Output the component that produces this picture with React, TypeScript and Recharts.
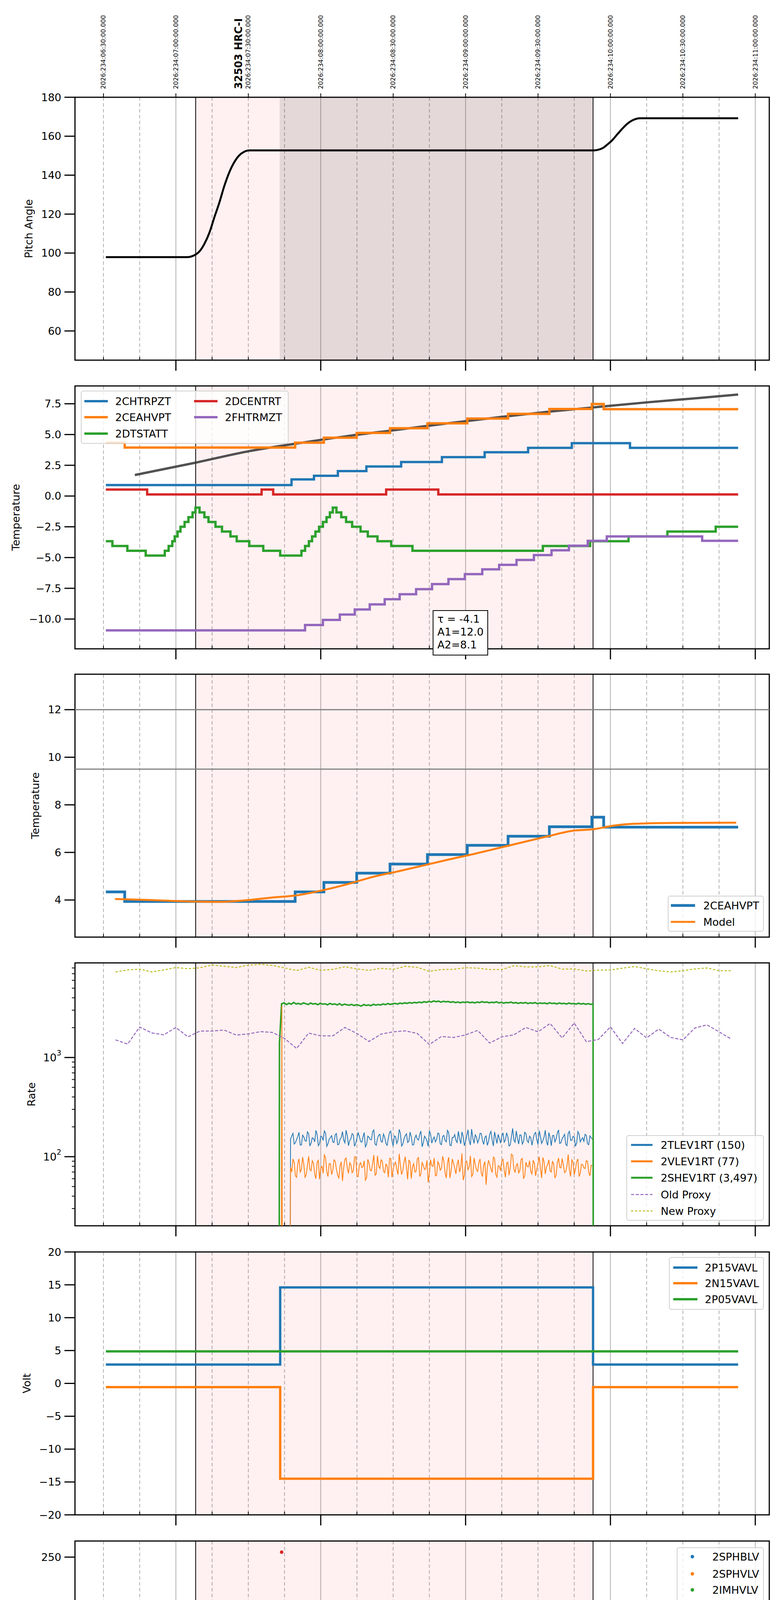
// HRC-I observation 32503 — eight stacked telemetry panels sharing one time axis.
// Time is minutes after local midnight on 2026-08-22 (top labels are UTC, +4h).

import React from 'react';
import {
  ComposedChart,
  Line,
  Scatter,
  XAxis,
  YAxis,
  CartesianGrid,
  ReferenceLine,
  ReferenceArea,
} from 'recharts';

const FONT = 'DejaVu Sans, sans-serif';
const BLUE = '#1f77b4';
const ORANGE = '#ff7f0e';
const GREEN = '#2ca02c';
const RED = '#d62728';
const PURPLE = '#9467bd';
const OLIVE = '#bcbd22';

// ---- shared time axis ----
const X_DOMAIN: [number, number] = [138.2, 425.8];
const QUARTER_TICKS = [150, 165, 180, 195, 210, 225, 240, 255, 270, 285, 300, 315, 330, 345, 360, 375, 390, 405, 420];
const QUARTER_LABELS = ['30', '45', '03h', '15', '30', '45', '04h', '15', '30', '45', '05h', '15', '30', '45', '06h', '15', '30', '45', '07h'];
const HOUR_TICKS = [180, 240, 300, 360, 420];
const DASHED_GRID = [150, 165, 195, 210, 225, 255, 270, 285, 315, 330, 345, 375, 390, 405];
const HALF_TICKS = [150, 180, 210, 240, 270, 300, 330, 360, 390, 420];
const HALF_LABELS = [
  '2026:234:06:30:00.000', '2026:234:07:00:00.000', '2026:234:07:30:00.000', '2026:234:08:00:00.000',
  '2026:234:08:30:00.000', '2026:234:09:00:00.000', '2026:234:09:30:00.000', '2026:234:10:00:00.000',
  '2026:234:10:30:00.000', '2026:234:11:00:00.000',
];
const OBS_START = 188.2;
const OBS_END = 352.8;
const HRC_ON = 223.0;
const HRC_LABEL_T = 206.0;

// ---- panel 1: pitch ----
const PITCH_T = [151.0, 184.6, 187.7, 189.8, 191.8, 193.9, 195.9, 198.0, 200.1, 202.1, 204.2, 206.2, 208.3, 210.4, 352.7, 354.8, 356.8, 358.9, 361.0, 363.0, 365.1, 367.1, 369.2, 372.3, 412.9];
const PITCH_V = [97.9, 97.9, 98.9, 100.9, 104.7, 110.5, 118.2, 125.9, 134.6, 141.4, 146.7, 150.1, 152.0, 152.7, 152.7, 153.0, 153.9, 155.9, 158.3, 161.2, 164.1, 166.5, 168.2, 169.2, 169.2];

// ---- panel 2: temperatures ----
const CHTRPZT_T = [151.0, 227.9, 237.2, 247.1, 258.9, 273.3, 290.2, 307.9, 325.9, 344.0, 368.1, 412.9];
const CHTRPZT_V = [0.89, 1.35, 1.65, 2.03, 2.40, 2.77, 3.16, 3.56, 3.92, 4.30, 3.92, 3.92];
const CEAHVPT_T = [151.0, 158.8, 229.4, 241.3, 254.9, 268.7, 284.2, 300.7, 317.6, 334.7, 352.3, 357.2, 412.9];
const CEAHVPT_V = [4.34, 3.94, 4.34, 4.74, 5.13, 5.51, 5.91, 6.30, 6.68, 7.08, 7.48, 7.06, 7.06];
const DCENTRT_T = [151.0, 168.1, 215.5, 220.3, 267.1, 288.7, 412.9];
const DCENTRT_V = [0.53, 0.13, 0.53, 0.13, 0.53, 0.13, 0.13];
const DTSTATT_T = [
  151.0, 153.7, 159.9, 167.5, 175.4, 177.0, 178.5, 179.5, 180.7, 181.9, 183.6, 185.2, 186.9, 188.1,
  189.8, 191.8, 193.5, 196.4, 199.1, 202.6, 205.2, 210.4, 216.2, 223.2,
  232.0, 233.5, 235.1, 236.4, 237.8, 239.3, 240.9, 242.4, 243.8, 245.0,
  246.5, 248.5, 250.5, 253.0, 256.5, 259.5, 263.5, 269.2, 278.0,
  332.0, 351.6, 367.5, 383.6, 403.6, 412.9,
];
const DTSTATT_V = [
  -3.67, -4.06, -4.45, -4.84, -4.45, -4.06, -3.67, -3.28, -2.89, -2.5, -2.11, -1.72, -1.33, -0.94,
  -1.33, -1.72, -2.11, -2.5, -2.89, -3.28, -3.67, -4.06, -4.45, -4.84,
  -4.45, -4.06, -3.67, -3.28, -2.89, -2.5, -2.11, -1.72, -1.33, -0.94,
  -1.33, -1.72, -2.11, -2.5, -2.89, -3.28, -3.67, -4.06, -4.45,
  -4.06, -3.67, -3.28, -2.89, -2.5, -2.5,
];
const FHTRMZT_T = [151.0, 233.5, 240.9, 247.9, 254.1, 260.3, 266.5, 272.7, 279.5, 286.1, 292.9, 299.7, 306.9, 313.9, 321.1, 328.3, 335.6, 342.8, 350.6, 358.5, 398.0, 412.9];
const FHTRMZT_V = [-10.92, -10.48, -10.07, -9.63, -9.22, -8.81, -8.39, -7.98, -7.57, -7.16, -6.75, -6.35, -5.96, -5.59, -5.2, -4.8, -4.41, -4.04, -3.64, -3.28, -3.64, -3.64];
const FIT_T = [163.0, 188.3, 210.4, 231.0, 251.6, 272.3, 292.9, 313.5, 334.1, 352.7, 375.4, 396.0, 412.9];
const FIT_V = [1.71, 2.72, 3.65, 4.3, 4.89, 5.4, 5.92, 6.4, 6.85, 7.2, 7.62, 7.96, 8.25];

// ---- panel 3: 2CEAHVPT vs model ----
const MODEL_T = [154.8, 169.2, 179.5, 198.0, 210.4, 218.6, 231.0, 241.3, 251.6, 261.9, 272.3, 282.6, 292.9, 303.2, 313.5, 323.8, 334.1, 344.4, 352.7, 360.9, 369.2, 385.7, 412.1];
const MODEL_V = [4.04, 4.0, 3.96, 3.92, 4.0, 4.09, 4.21, 4.42, 4.68, 4.98, 5.21, 5.45, 5.7, 5.93, 6.18, 6.43, 6.68, 6.91, 6.97, 7.12, 7.2, 7.24, 7.25];
const LIMIT_LINES = [12, 9.5];

// ---- panel 4: rates (two interleaved 1-min sample sets) ----
const RATE_STEP = 1.0;
const TLEV_START = 227.5;
const TLEV_START_B = 228.0;
const TLEV1RT = [
  150, 172, 138, 160, 131, 165, 145, 178, 128, 155, 141, 168, 135, 159, 182, 127, 150, 163, 139, 171,
  133, 156, 147, 185, 129, 152, 166, 137, 174, 142, 158, 126, 161, 149, 179, 134, 153, 168, 140, 157,
  130, 176, 145, 162, 136, 188, 128, 151, 170, 143, 159, 132, 165, 147, 181, 138, 154, 127, 169, 150,
  141, 173, 135, 160, 146, 184, 131, 156, 167, 139, 152, 178, 129, 163, 144, 190, 136, 158, 149, 171,
  133, 162, 142, 180, 128, 155, 168, 137, 174, 147, 159, 131, 193, 140, 153, 166, 134, 176, 145, 161,
  130, 170, 148, 183, 136, 157, 142, 175, 129, 164, 151, 186, 138, 159, 133, 172, 146, 160, 127, 179,
  141, 155, 168, 135, 162, 150,
];
const TLEV1RT_B = [
  162, 134, 149, 176, 131, 158, 143, 170, 137, 152, 184, 129, 161, 146, 173, 135, 156, 141, 167, 132,
  150, 179, 138, 163, 145, 171, 127, 154, 160, 140, 175, 133, 157, 148, 186, 130, 165, 142, 169, 136,
  153, 181, 128, 159, 147, 172, 134, 163, 139, 177, 131, 155, 150, 168, 126, 161, 144, 183, 137, 158,
  149, 170, 132, 164, 141, 175, 129, 156, 146, 180, 135, 160, 143, 187, 131, 154, 166, 138, 172, 145,
  157, 130, 169, 148, 178, 136, 152, 162, 140, 174, 128, 159, 147, 182, 134, 165, 142, 171, 139, 155,
  151, 176, 133, 160, 145, 185, 130, 157, 163, 141, 173, 136, 152, 168, 129, 180, 146, 158, 137, 170,
  149, 143, 164, 132, 156,
];
const VLEV1RT = [
  78, 95, 64, 86, 70, 99, 62, 82, 74, 91, 67, 88, 59, 80, 104, 71, 85, 66, 93, 75,
  61, 89, 77, 97, 68, 83, 72, 100, 63, 87, 79, 58, 94, 73, 86, 65, 102, 76, 90, 69,
  81, 96, 62, 84, 74, 107, 66, 88, 78, 92, 60, 85, 71, 98, 67, 82, 76, 55, 93, 80,
  64, 89, 73, 101, 69, 86, 61, 95, 77, 84, 70, 108, 65, 90, 79, 63, 97, 74, 87, 68,
  83, 52, 92, 76, 99, 66, 81, 72, 94, 62, 88, 78, 103, 69, 85, 73, 96, 64, 80, 91,
  67, 86, 75, 100, 61, 89, 79, 93, 70, 84, 65, 97, 77, 82, 71, 105, 63, 88, 74, 95,
  68, 83, 76, 90, 64, 81,
];
const VLEV1RT_B = [
  70, 88, 62, 95, 74, 83, 66, 101, 72, 86, 60, 92, 77, 68, 98, 63, 85, 73, 90, 65,
  81, 57, 94, 76, 87, 69, 99, 64, 83, 78, 91, 61, 86, 72, 104, 67, 80, 93, 71, 84,
  62, 96, 75, 88, 66, 82, 73, 100, 59, 89, 79, 70, 95, 63, 87, 74, 92, 68, 81, 97,
  65, 84, 76, 90, 61, 99, 72, 86, 67, 93, 78, 58, 88, 74, 102, 66, 83, 71, 95, 63,
  89, 77, 84, 69, 97, 62, 80, 91, 73, 86, 65, 106, 75, 82, 68, 94, 60, 88, 79, 71,
  92, 64, 85, 76, 98, 67, 83, 72, 90, 61, 87, 78, 96, 69, 81, 74, 93, 66, 89, 63,
  84, 77, 91, 70, 82,
];
const SHEV_START = 223.8;
const SHEV1RT = [
  3480, 3560, 3420, 3530, 3450, 3590, 3470, 3510, 3440, 3550,
  3490, 3420, 3540, 3460, 3500, 3410, 3520, 3450, 3480, 3400,
  3510, 3430, 3470, 3390, 3490, 3360, 3450, 3400, 3370, 3430,
  3340, 3410, 3360, 3300, 3420, 3350, 3390, 3330, 3440, 3370,
  3420, 3380, 3470, 3410, 3500, 3430, 3480, 3520, 3450, 3540,
  3490, 3560, 3510, 3580, 3530, 3600, 3550, 3620, 3570, 3650,
  3600, 3680, 3620, 3720, 3650, 3700, 3610, 3690, 3640, 3670,
  3600, 3650, 3580, 3630, 3560, 3620, 3590, 3640, 3570, 3610,
  3550, 3620, 3580, 3660, 3590, 3630, 3560, 3610, 3580, 3640,
  3550, 3600, 3530, 3590, 3560, 3620, 3540, 3580, 3510, 3570,
  3530, 3590, 3500, 3560, 3520, 3580, 3490, 3550, 3510, 3540,
  3480, 3560, 3500, 3530, 3470, 3550, 3490, 3520, 3460, 3540,
  3480, 3510, 3450, 3530, 3460, 3500, 3440, 3490, 3430, 3470,
];
// off-scale edges of the rate traces (below the axis floor)
const TLEV_PRE_T = [227.3];
const TLEV_PRE_V = [5];
const VLEV_PRE_T = [223.7, 223.9, 224.1, 227.3];
const VLEV_PRE_V = [5, 3300, 5, 5];
const SHEV_PRE_T = [222.8, 222.9];
const SHEV_PRE_V = [5, 1400];
const SHEV_POST_T = [352.9];
const SHEV_POST_V = [5];
// proxies, 5-min cadence
const PROXY_START = 155;
const PROXY_STEP = 5;
const OLD_PROXY = [
  1506, 1366, 2027, 1771, 1691, 2009, 1615, 1849, 1849, 1892,
  1683, 1730, 1822, 1790, 1556, 1233, 1763, 1652, 1652, 2009,
  1746, 1451, 1722, 1815, 1858, 1746, 1353, 1630, 1592, 1691,
  1875, 1398, 1615, 1691, 2009, 1815, 2204, 1577, 2224, 1445,
  1520, 2036, 1384, 1963, 1577, 1935, 1592, 1506, 1983, 2133,
  1815, 1534,
];
const NEW_PROXY = [
  7290, 7636, 7780, 7290, 7636, 8075, 7852, 8038, 8578, 8304,
  8075, 8538, 8699, 8498, 7998, 7531, 8113, 7566, 7744, 8228,
  7816, 7566, 7925, 7744, 8304, 8113, 7392, 7708, 7744, 8038,
  7961, 7708, 7708, 8420, 8190, 8190, 8459, 7780, 7816, 7460,
  7601, 7636, 7961, 8266, 7852, 7495, 7290, 7495, 7816, 7998,
  7495, 7495,
];

// ---- panel 5: voltages ----
const VOLT_T = [151.0, 223.2, 352.8, 412.9];
const P15VAVL_V = [2.87, 14.6, 2.87, 2.87];
const N15VAVL_V = [-0.57, -14.5, -0.57, -0.57];
const P05VAVL_T = [151.0, 412.9];
const P05VAVL_V = [4.87, 4.87];

// ---- panel 6: HV monitor ----
const IMHBLV_T = [223.8, 224.2, 224.3, 224.5, 224.8, 225.5, 225.9, 226.3, 226.5, 226.9, 227.3, 227.9];
const IMHBLV_V = [255, 126, 124, 119, 105, 101, 97, 94, 91, 89, 87, 85.6];
const IMHBLV_FLAT_T = [227.9, 353.1];
const IMHBLV_FLAT_V = [85.6, 85.6];
const IMHVLV_T = [224.2, 224.8, 225.5, 226.1, 226.7, 227.3];
const IMHVLV_V = [100, 95, 90, 86, 83, 79.1];
const IMHVLV_FLAT_T = [227.3, 353.1];
const IMHVLV_FLAT_V = [79.1, 79.1];

// ---- panel 7: detector temps ----
const SPINATM_T = [223.2, 230.6, 232.0, 233.1, 234.1, 235.1, 236.6, 237.8, 239.2, 240.9, 242.8, 244.0, 245.4, 247.1, 249.1, 251.0, 253.3, 255.7, 259.4, 264.4, 270.6, 280.1, 302.6, 352.3, 352.6];
const SPINATM_V = [1.75, 2.21, 2.66, 3.15, 3.64, 4.13, 4.62, 5.18, 5.67, 6.16, 6.72, 7.2, 6.72, 6.16, 5.67, 5.18, 4.62, 4.13, 3.64, 3.15, 2.66, 2.21, 1.75, 2.21, 2.21];
const SPHVATM_T = [223.2, 223.8, 263.2, 280.7, 297.2, 313.7, 328.6, 342.6, 352.3];
const SPHVATM_V = [11.82, 12.31, 12.63, 12.98, 13.29, 13.63, 13.96, 14.3, 14.3];
const IMINATM_T = [223.2, 278.2, 352.3, 352.5];
const IMINATM_V = [-0.53, -0.1, 16.0, 16.0];
const IMHVATM_T = [223.0, 223.2, 234.1, 240.3, 246.9, 253.1, 259.9, 267.5, 276.0, 285.1, 295.4, 306.8, 318.6, 330.4, 342.8, 352.7, 352.8];
const IMHVATM_V = [-5, 11.65, 11.99, 12.31, 12.66, 13.0, 13.33, 13.64, 13.96, 14.31, 14.65, 15.0, 15.33, 15.68, 16.02, 30, -5];

// ---- panel 8: FEA temps ----
const FRADPYT_T = [232.5, 232.7, 238.6, 244.4, 250.2, 256.2, 262.4, 268.8, 275.0, 282.0, 288.8, 295.6, 302.8, 310.4, 317.6, 325.3, 333.1, 341.0, 348.6, 397.0, 412.9];
const FRADPYT_V = [-14, -12.2, -11.77, -11.34, -10.9, -10.45, -10.04, -9.62, -9.19, -8.78, -8.37, -7.97, -7.57, -7.15, -6.76, -6.35, -5.96, -5.58, -5.2, -5.59, -5.59];
const FEPRATM_T = [222.6, 222.8, 225.4, 228.3, 231.0, 234.1, 237.8, 242.4, 247.5, 253.1, 258.9, 265.0, 271.2, 277.8, 284.2, 290.8, 298.0, 305.7, 313.1, 320.7, 328.6, 336.6, 344.8];
const FEPRATM_V = [-14, -11.13, -10.69, -10.26, -9.81, -9.38, -8.96, -8.53, -8.1, -7.69, -7.27, -6.86, -6.45, -6.04, -5.61, -5.2, -4.78, -4.37, -3.95, -3.52, -3.09, -2.68, -2.0];
const FE00ATM_T = [
  222.6, 222.8, 229.0, 235.6, 240.3, 243.7, 244.1, 245.0, 247.2, 247.6, 249.6, 254.9, 258.6, 259.0, 259.9,
  264.6, 268.8, 269.6, 274.7, 276.4, 276.8, 279.9, 285.0, 290.4, 296.4, 298.7, 299.1, 301.7, 307.7, 313.5,
  319.1, 324.8, 331.0, 337.2, 341.5, 341.9, 343.4, 349.6, 352.7, 352.8,
];
const FE00ATM_V = [
  -14, -12.33, -11.95, -11.54, -11.17, -9.9, -11.17, -10.8, -10.4, -10.8, -10.42, -10.04, -9.62, -10.04, -9.65,
  -9.29, -10.08, -8.92, -8.54, -8.0, -8.54, -8.19, -7.83, -7.46, -7.11, -6.35, -7.11, -6.76, -6.39, -6.04,
  -5.69, -5.34, -4.99, -4.64, -3.93, -4.64, -4.31, -3.94, 0, -14,
];

// ---- layout ----
const CHART_W = 2000;
const RIGHT_PAD = 30;
const PLOT_LEFT = 192;
const PLOT_H = 673;
const PAD = 20;
const TOP_AXIS_H = 229;

const pts = (ts: number[], vs: number[]) => ts.map((t, i) => ({ t, v: vs[i] }));
const cadence = (start: number, step: number, vs: number[]) => vs.map((v, i) => ({ t: start + i * step, v }));
const byTime = (a: { t: number }, b: { t: number }) => a.t - b.t;
const minus = (s: string) => s.replace('-', '\u2212');

function BottomTick(props: any) {
  const { x, y, payload, showLabels } = props;
  const v = payload.value;
  const major = HOUR_TICKS.includes(v);
  const label = QUARTER_LABELS[QUARTER_TICKS.indexOf(v)];
  return (
    <g>
      {major ? (
        <line x1={x} x2={x} y1={y} y2={y + 27} stroke="#000" strokeWidth={3} />
      ) : (
        <line x1={x} x2={x} y1={y} y2={y - 8} stroke="#000" strokeWidth={2} />
      )}
      {showLabels && (
        <text x={x} y={major ? y + 50 : y + 15} textAnchor="middle" dominantBaseline="central"
          fontFamily={FONT} fontSize={major ? 27 : 17} fill="#000">
          {label}
        </text>
      )}
    </g>
  );
}

// UTC timestamp above the first panel, drawn as the label of an invisible reference line
const topStamp = (text: string) => (p: any) => {
  const x = p?.viewBox?.x ?? 0;
  const y = PAD + TOP_AXIS_H;
  return (
    <g>
      <line x1={x} x2={x} y1={y} y2={y - 10} stroke="#000" strokeWidth={2} />
      <text transform={`translate(${x},${y - 21}) rotate(-90)`} dominantBaseline="central"
        fontFamily={FONT} fontSize={16} fill="#000">
        {text}
      </text>
    </g>
  );
};

type TickLab = string | [string, string] | null;

function YTick(props: any) {
  const { x, y, payload, fmt } = props;
  const lab: TickLab = fmt(payload.value);
  if (lab === null) {
    return <line x1={x - 8} x2={x} y1={y} y2={y} stroke="#000" strokeWidth={2} />;
  }
  return (
    <g>
      <line x1={x - 27} x2={x} y1={y} y2={y} stroke="#000" strokeWidth={3} />
      <text x={x - 35} y={y} textAnchor="end" dominantBaseline="central" fontFamily={FONT} fontSize={27} fill="#000">
        {Array.isArray(lab) ? (
          <>
            <tspan>{lab[0]}</tspan>
            <tspan dy={-12} fontSize={19}>{lab[1]}</tspan>
          </>
        ) : (
          lab
        )}
      </text>
    </g>
  );
}

type PanelProps = {
  top: number;
  domain: [number, number];
  ticks: number[];
  fmt: (v: number) => TickLab;
  yLabel: string;
  labelX: number;
  log?: boolean;
  topAxis?: boolean;
  xLabels?: boolean;
  children?: React.ReactNode;
};

function Panel({ top, domain, ticks, fmt, yLabel, labelX, log, topAxis, xLabels, children }: PanelProps) {
  const plotTop = PAD + (topAxis ? TOP_AXIS_H : 0);
  const bottomH = xLabels ? 105 : 75;
  const height = plotTop + PLOT_H + bottomH;
  const midY = plotTop + PLOT_H / 2;
  const midX = (PLOT_LEFT + CHART_W - RIGHT_PAD) / 2;
  return (
    <div style={{ position: 'absolute', left: 0, top: top - plotTop }}>
      <ComposedChart width={CHART_W} height={height} margin={{ top: plotTop, right: RIGHT_PAD, bottom: 0, left: 0 }}>
        <CartesianGrid horizontal={false} verticalValues={DASHED_GRID} stroke="#b0b0b0" strokeWidth={2} strokeDasharray="9 6" />
        <CartesianGrid horizontal={false} verticalValues={HOUR_TICKS} stroke="#b0b0b0" strokeWidth={2} />
        <ReferenceArea x1={OBS_START} x2={OBS_END} y1={domain[0]} y2={domain[1]} fill="#ff0000" fillOpacity={0.055} stroke="none" />
        <ReferenceLine x={OBS_START} stroke="#000" strokeWidth={2} />
        <ReferenceLine x={OBS_END} stroke="#000" strokeWidth={2} />
        <XAxis
          type="number"
          dataKey="t"
          domain={X_DOMAIN}
          allowDataOverflow
          ticks={QUARTER_TICKS}
          interval={0}
          tickSize={0}
          tickMargin={0}
          axisLine={false}
          tickLine={false}
          height={bottomH}
          tick={<BottomTick showLabels={!!xLabels} />}
          label={
            xLabels
              ? () => (
                  <text x={midX} y={plotTop + PLOT_H + 88} textAnchor="middle" dominantBaseline="central" fontFamily={FONT} fontSize={32}>
                    2026-08-22 (234)
                  </text>
                )
              : undefined
          }
        />
        <YAxis
          type="number"
          dataKey="v"
          scale={log ? 'log' : 'linear'}
          domain={domain}
          allowDataOverflow
          ticks={ticks}
          interval={0}
          tickSize={0}
          tickMargin={0}
          axisLine={false}
          tickLine={false}
          width={PLOT_LEFT}
          tick={<YTick fmt={fmt} />}
          label={() => (
            <text transform={`translate(${labelX},${midY}) rotate(-90)`} textAnchor="middle" dominantBaseline="central" fontFamily={FONT} fontSize={27}>
              {yLabel}
            </text>
          )}
        />
        {topAxis && HALF_TICKS.map((t, i) => (
          <ReferenceLine key={`stamp-${t}`} x={t} stroke="none" label={topStamp(HALF_LABELS[i])} />
        ))}
        {children}
        <ReferenceArea x1={X_DOMAIN[0]} x2={X_DOMAIN[1]} y1={domain[0]} y2={domain[1]} fill="none" stroke="#000" strokeWidth={3} />
      </ComposedChart>
    </div>
  );
}

type LegendEntry = { label: string; color: string; kind: 'line' | 'dash' | 'dot'; lw?: number; dash?: string; hx: number; tx: number; ry: number };
type LegendSpec = { x: number; y: number; w: number; h: number; len: number; entries: LegendEntry[] };

const lg = (label: string, color: string, hx: number, tx: number, ry: number, lw = 6, kind: LegendEntry['kind'] = 'line', dash?: string): LegendEntry =>
  ({ label, color, hx, tx, ry, lw, kind, dash });

const LEGENDS: LegendSpec[] = [
  {
    x: 207, y: 1000, w: 532, h: 136, len: 60,
    entries: [
      lg('2CHTRPZT', BLUE, 7, 86, 25), lg('2CEAHVPT', ORANGE, 7, 86, 66), lg('2DTSTATT', GREEN, 7, 86, 108),
      lg('2DCENTRT', RED, 288, 367, 25), lg('2FHTRMZT', PURPLE, 288, 367, 66),
    ],
  },
  { x: 1710, y: 2293, w: 246, h: 92, len: 62, entries: [lg('2CEAHVPT', BLUE, 6, 89, 23, 7), lg('Model', ORANGE, 6, 89, 65, 5)] },
  {
    x: 1604, y: 2906, w: 352, h: 219, len: 55,
    entries: [
      lg('2TLEV1RT (150)', BLUE, 10, 86, 23, 5), lg('2VLEV1RT (77)', ORANGE, 10, 86, 65, 5), lg('2SHEV1RT (3,497)', GREEN, 10, 86, 107, 5),
      lg('Old Proxy', PURPLE, 10, 86, 150, 2.5, 'dash', '8 4'), lg('New Proxy', OLIVE, 10, 86, 192, 2.5, 'dash', '6 4'),
    ],
  },
  { x: 1713, y: 3218, w: 243, h: 135, len: 62, entries: [lg('2P15VAVL', BLUE, 9, 90, 25), lg('2N15VAVL', ORANGE, 9, 90, 65), lg('2P05VAVL', GREEN, 9, 90, 106)] },
  {
    x: 1733, y: 3961, w: 223, h: 176, len: 0,
    entries: [
      lg('2SPHBLV', BLUE, 38, 89, 22, 0, 'dot'), lg('2SPHVLV', ORANGE, 38, 89, 66, 0, 'dot'),
      lg('2IMHVLV', GREEN, 38, 89, 107, 0, 'dot'), lg('2IMHBLV', RED, 38, 89, 149, 0, 'dot'),
    ],
  },
  {
    x: 1710, y: 4695, w: 246, h: 177, len: 62,
    entries: [lg('2SPINATM', BLUE, 6, 89, 24), lg('2SPHVATM', ORANGE, 6, 89, 66), lg('2IMINATM', GREEN, 6, 89, 108), lg('2IMHVATM', RED, 6, 89, 150)],
  },
  {
    x: 204, y: 5433, w: 251, h: 178, len: 60,
    entries: [lg('2FHTRMZT', BLUE, 10, 89, 26), lg('2FRADPYT', ORANGE, 10, 89, 68), lg('2FEPRATM', GREEN, 10, 89, 110), lg('2FE00ATM', RED, 10, 89, 152)],
  },
];

function LegendBox({ spec }: { spec: LegendSpec }) {
  return (
    <div style={{
      position: 'absolute', left: spec.x, top: spec.y, width: spec.w, height: spec.h, boxSizing: 'border-box',
      background: 'rgba(255,255,255,0.8)', border: '2px solid #d0d0d0', borderRadius: 6,
    }}>
      {spec.entries.map((e) => (
        <React.Fragment key={e.label}>
          <svg style={{ position: 'absolute', left: e.kind === 'dot' ? e.hx - 8 : e.hx, top: e.ry - 10 }} width={e.kind === 'dot' ? 16 : spec.len} height={20}>
            {e.kind === 'dot' ? (
              <circle cx={8} cy={10} r={4.5} fill={e.color} />
            ) : (
              <line x1={0} x2={spec.len} y1={10} y2={10} stroke={e.color} strokeWidth={e.lw} strokeDasharray={e.dash} />
            )}
          </svg>
          <div style={{
            position: 'absolute', left: e.tx, top: e.ry, transform: 'translateY(-50%)', whiteSpace: 'nowrap',
            fontFamily: FONT, fontSize: 27, lineHeight: 1, color: '#000',
          }}>
            {e.label}
          </div>
        </React.Fragment>
      ))}
    </div>
  );
}

const stepLine = (key: string, ts: number[], vs: number[], color: string, w = 6) => (
  <Line key={key} data={pts(ts, vs)} dataKey="v" type="stepAfter" stroke={color} strokeWidth={w}
    dot={false} activeDot={false} isAnimationActive={false} />
);

const PANEL_TOPS = [249, 988, 1726, 2465, 3205, 3945, 4682, 5421];
const LOG_TICKS = [30, 40, 50, 60, 70, 80, 90, 100, 200, 300, 400, 500, 600, 700, 800, 900, 1000, 2000, 3000, 4000, 5000, 6000, 7000, 8000];

const TLEV_DATA = [...pts(TLEV_PRE_T, TLEV_PRE_V), ...cadence(TLEV_START, RATE_STEP, TLEV1RT), ...cadence(TLEV_START_B, RATE_STEP, TLEV1RT_B)].sort(byTime);
const VLEV_DATA = [...pts(VLEV_PRE_T, VLEV_PRE_V), ...cadence(TLEV_START, RATE_STEP, VLEV1RT), ...cadence(TLEV_START_B, RATE_STEP, VLEV1RT_B)].sort(byTime);
const SHEV_DATA = [...pts(SHEV_PRE_T, SHEV_PRE_V), ...cadence(SHEV_START, RATE_STEP, SHEV1RT), ...pts(SHEV_POST_T, SHEV_POST_V)];

export default function App() {
  return (
    <div style={{ position: 'relative', width: 2000, height: 6200, margin: -8, background: '#fff', fontFamily: FONT, overflow: 'hidden' }}>
      {/* 1: pitch */}
      <Panel top={PANEL_TOPS[0]} domain={[45, 180]} ticks={[60, 80, 100, 120, 140, 160, 180]} fmt={(v) => String(v)}
        yLabel="Pitch Angle" labelX={73} topAxis>
        <ReferenceArea x1={HRC_ON} x2={OBS_END} y1={45} y2={180} fill="#000" fillOpacity={0.1} stroke="none" />
        <ReferenceLine x={HRC_LABEL_T} stroke="none" label={(p: any) => (
          <text transform={`translate(${p?.viewBox?.x ?? 600},${PAD + TOP_AXIS_H - 21}) rotate(-90)`} dominantBaseline="central"
            fontFamily={FONT} fontSize={26} fontWeight="bold" fill="#000">
            32503 HRC-I
          </text>
        )} />
        <Line data={pts(PITCH_T, PITCH_V)} dataKey="v" type="monotone" stroke="#000" strokeWidth={5}
          dot={false} activeDot={false} isAnimationActive={false} />
      </Panel>

      {/* 2: temperatures */}
      <Panel top={PANEL_TOPS[1]} domain={[-12.42, 8.95]} ticks={[-10, -7.5, -5, -2.5, 0, 2.5, 5, 7.5]} fmt={(v) => minus(v.toFixed(1))}
        yLabel="Temperature" labelX={40}>
        <Line data={pts(FIT_T, FIT_V)} dataKey="v" type="monotone" stroke="#333" strokeOpacity={0.85} strokeWidth={6}
          dot={false} activeDot={false} isAnimationActive={false} />
        {stepLine('chtr', CHTRPZT_T, CHTRPZT_V, BLUE)}
        {stepLine('ceah', CEAHVPT_T, CEAHVPT_V, ORANGE)}
        {stepLine('dtst', DTSTATT_T, DTSTATT_V, GREEN)}
        {stepLine('dcen', DCENTRT_T, DCENTRT_V, RED)}
        {stepLine('fhtr', FHTRMZT_T, FHTRMZT_V, PURPLE)}
      </Panel>

      {/* 3: 2CEAHVPT vs model */}
      <Panel top={PANEL_TOPS[2]} domain={[2.44, 13.49]} ticks={[4, 6, 8, 10, 12]} fmt={(v) => String(v)}
        yLabel="Temperature" labelX={90}>
        {LIMIT_LINES.map((y) => <ReferenceLine key={y} y={y} stroke="#808080" strokeWidth={3} />)}
        {stepLine('ceah3', CEAHVPT_T, CEAHVPT_V, BLUE, 7)}
        <Line data={pts(MODEL_T, MODEL_V)} dataKey="v" type="monotone" stroke={ORANGE} strokeWidth={5}
          dot={false} activeDot={false} isAnimationActive={false} />
      </Panel>

      {/* 4: rates */}
      <Panel top={PANEL_TOPS[3]} domain={[20.1, 8995]} ticks={LOG_TICKS} log
        fmt={(v) => (v === 100 ? ['10', '2'] : v === 1000 ? ['10', '3'] : null)} yLabel="Rate" labelX={80}>
        <Line data={SHEV_DATA} dataKey="v" type="linear" stroke={GREEN} strokeWidth={4}
          dot={false} activeDot={false} isAnimationActive={false} />
        <Line data={TLEV_DATA} dataKey="v" type="linear" stroke={BLUE} strokeWidth={2}
          dot={false} activeDot={false} isAnimationActive={false} />
        <Line data={VLEV_DATA} dataKey="v" type="linear" stroke={ORANGE} strokeWidth={2}
          dot={false} activeDot={false} isAnimationActive={false} />
        <Line data={cadence(PROXY_START, PROXY_STEP, OLD_PROXY)} dataKey="v" type="linear" stroke={PURPLE} strokeWidth={2.5}
          strokeDasharray="8 4" dot={false} activeDot={false} isAnimationActive={false} />
        <Line data={cadence(PROXY_START, PROXY_STEP, NEW_PROXY)} dataKey="v" type="linear" stroke={OLIVE} strokeWidth={2.5}
          strokeDasharray="6 4" dot={false} activeDot={false} isAnimationActive={false} />
      </Panel>

      {/* 5: voltages */}
      <Panel top={PANEL_TOPS[4]} domain={[-20, 20]} ticks={[-20, -15, -10, -5, 0, 5, 10, 15, 20]} fmt={(v) => minus(String(v))}
        yLabel="Volt" labelX={68}>
        {stepLine('p15', VOLT_T, P15VAVL_V, BLUE)}
        {stepLine('n15', VOLT_T, N15VAVL_V, ORANGE)}
        {stepLine('p05', P05VAVL_T, P05VAVL_V, GREEN)}
      </Panel>

      {/* 6: HV monitor */}
      <Panel top={PANEL_TOPS[5]} domain={[0, 266.3]} ticks={[0, 50, 100, 150, 200, 250]} fmt={(v) => String(v)}
        yLabel="HV Monitor" labelX={75}>
        <Line data={pts(IMHVLV_FLAT_T, IMHVLV_FLAT_V)} dataKey="v" type="linear" stroke={GREEN} strokeWidth={10} strokeLinecap="round"
          dot={false} activeDot={false} isAnimationActive={false} />
        <Scatter data={pts(IMHVLV_T, IMHVLV_V)} fill={GREEN} isAnimationActive={false} />
        <Line data={pts(IMHBLV_FLAT_T, IMHBLV_FLAT_V)} dataKey="v" type="linear" stroke={RED} strokeWidth={12} strokeLinecap="round"
          dot={false} activeDot={false} isAnimationActive={false} />
        <Scatter data={pts(IMHBLV_T, IMHBLV_V)} fill={RED} isAnimationActive={false} />
      </Panel>

      {/* 7: detector temps */}
      <Panel top={PANEL_TOPS[6]} domain={[-2.03, 16.82]} ticks={[0, 2.5, 5, 7.5, 10, 12.5, 15]} fmt={(v) => v.toFixed(1)}
        yLabel="Detector Temp" labelX={64}>
        {stepLine('spin', SPINATM_T, SPINATM_V, BLUE, 6.5)}
        {stepLine('sphv', SPHVATM_T, SPHVATM_V, ORANGE, 6.5)}
        {stepLine('imin', IMINATM_T, IMINATM_V, GREEN, 6.5)}
        {stepLine('imhv', IMHVATM_T, IMHVATM_V, RED, 6.5)}
      </Panel>

      {/* 8: FEA temps */}
      <Panel top={PANEL_TOPS[7]} domain={[-12.4, -2.45]} ticks={[-12, -10, -8, -6, -4]} fmt={(v) => minus(String(v))}
        yLabel="FEA Temp" labelX={68} xLabels>
        {stepLine('fhtr8', FHTRMZT_T, FHTRMZT_V, BLUE, 6.5)}
        {stepLine('frad', FRADPYT_T, FRADPYT_V, ORANGE, 6.5)}
        {stepLine('fepr', FEPRATM_T, FEPRATM_V, GREEN, 6.5)}
        {stepLine('fe00', FE00ATM_T, FE00ATM_V, RED, 6.5)}
      </Panel>

      {LEGENDS.map((s, i) => <LegendBox key={i} spec={s} />)}

      <div style={{
        position: 'absolute', left: 1108, top: 1562, width: 142, height: 116, boxSizing: 'border-box',
        border: '2px solid #000', background: '#fff', padding: '4px 0 0 10px',
        fontFamily: FONT, fontSize: 27, lineHeight: '33px', color: '#000', whiteSpace: 'nowrap',
      }}>
        τ = -4.1<br />A1=12.0<br />A2=8.1
      </div>
    </div>
  );
}
